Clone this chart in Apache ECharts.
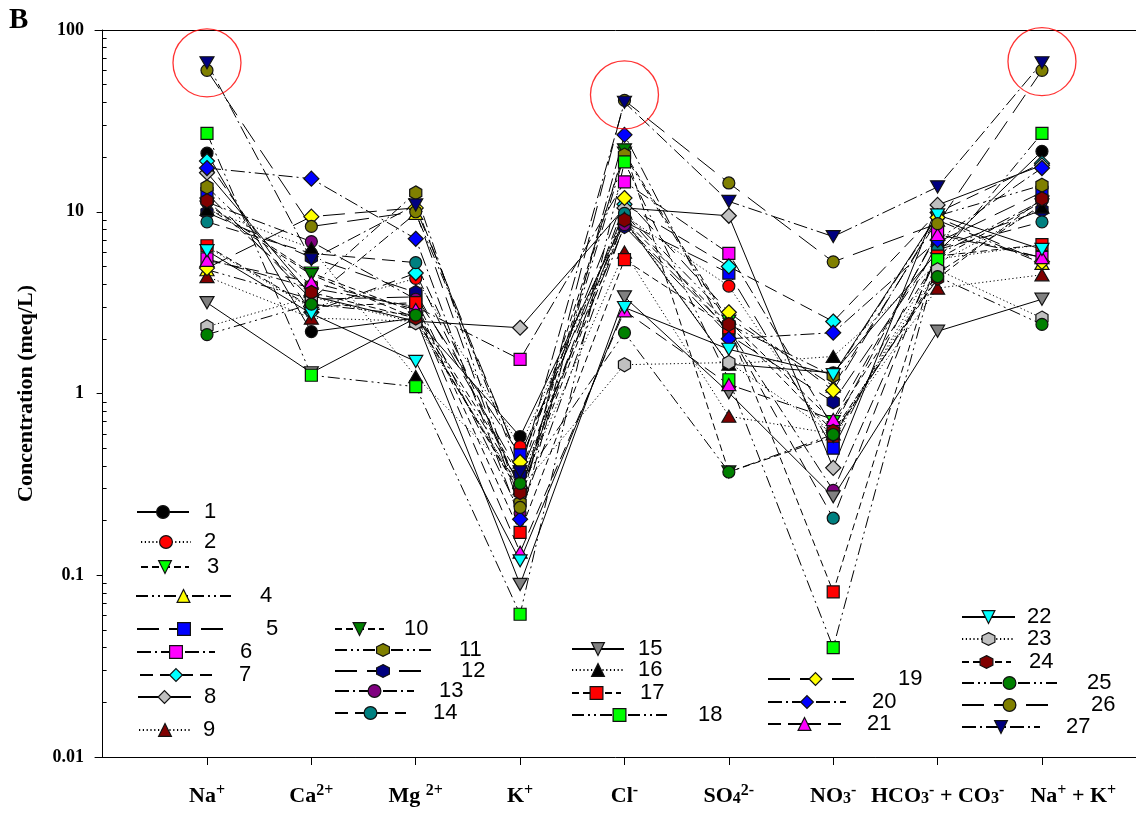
<!DOCTYPE html>
<html><head><meta charset="utf-8">
<script src="https://cdn.jsdelivr.net/npm/echarts@6/dist/echarts.min.js"></script>
<style>html,body{margin:0;padding:0;background:#fff}#c{width:1136px;height:815px}</style>
</head><body><div id="c"></div>
<script>
// ---- data ----
const categories = ['Na+', 'Ca2+', 'Mg2+', 'K+', 'Cl-', 'SO42-', 'NO3-', 'HCO3- + CO3-', 'Na+ + K+'];
const categoryLabels = [
  '{b|Na}{sup|+}', '{b|Ca}{sup|2+}', '{b|Mg }{sup|2+}', '{b|K}{sup|+}', '{b|Cl}{sup|-}',
  '{b|SO}{sub|4}{sup|2-}', '{b|NO}{sub|3}{sup|-}', '{b|HCO}{sub|3}{sup|-}{b| + CO}{sub|3}{sup|-}',
  '{b|Na}{sup|+}{b| + K}{sup|+}'
];
// label anchor positions along the category axis (last label is set off to the right in the original)
const labelPositions = [1, 2, 3, 4, 5, 6, 7, 8, 9.3];
const yTickValues = [0.01, 0.1, 1, 10, 100];
const yTickLabels = ['0.01', '0.1', '1', '10', '100'];
const yMinorTicks = [0.02,0.03,0.04,0.05,0.06,0.07,0.08,0.09,0.2,0.3,0.4,0.5,0.6,0.7,0.8,0.9,2,3,4,5,6,7,8,9,20,30,40,50,60,70,80,90];
const seriesNames = ['1','2','3','4','5','6','7','8','9','10','11','12','13','14','15','16','17','18','19','20','21','22','23','24','25','26','27'];
// order: Na, Ca, Mg, K, Cl, SO4, NO3, HCO3+CO3, Na+K
const s1  = [21, 2.19, 2.6, 0.58, 9.0, 1.45, 1.3, 6.0, 21.5];
const s2  = [6.4, 2.95, 4.3, 0.51, 9.5, 3.9, 0.55, 5.5, 6.6];
const s3  = [11.0, 4.6, 2.8, 0.35, 21.0, 2.5, 0.7, 5.5, 11.3];
const s4  = [4.8, 3.3, 9.8, 0.42, 10.0, 2.6, 1.1, 9.0, 5.2];
const s5  = [12.6, 3.3, 3.4, 0.46, 8.8, 4.6, 0.50, 6.8, 12.8];
const s6  = [5.5, 3.8, 3.0, 1.54, 14.6, 5.9, 0.65, 7.7, 5.6];
const s7  = [19.0, 2.8, 4.6, 0.30, 11.0, 5.0, 2.49, 9.9, 18.5];
const s8  = [16.4, 3.45, 2.5, 2.3, 10.5, 9.5, 0.39, 10.9, 18.0];
const s9  = [4.4, 2.6, 2.5, 0.30, 6.0, 0.75, 0.6, 3.8, 4.5];
const s10 = [10.6, 4.5, 2.6, 0.28, 21.9, 0.37, 0.58, 4.6, 10.9];
const s11 = [13.7, 3.9, 12.7, 0.25, 20.5, 2.4, 1.25, 9.5, 14.0];
const s12 = [9.9, 5.6, 3.6, 0.36, 8.3, 2.1, 0.90, 6.3, 10.2];
const s13 = [11.3, 6.85, 3.3, 0.22, 8.5, 2.25, 0.293, 5.8, 11.5];
const s14 = [8.8, 5.9, 5.25, 0.30, 9.8, 2.2, 0.206, 6.2, 8.8];
const s15 = [3.16, 1.3, 2.6, 0.089, 3.4, 1.01, 0.27, 2.2, 3.3];
const s16 = [10.3, 6.3, 1.24, 0.33, 9.2, 1.45, 1.6, 5.2, 10.6];
const s17 = [6.5, 3.0, 3.16, 0.172, 5.45, 2.3, 0.081, 5.7, 6.6];
const s18 = [27, 1.26, 1.09, 0.061, 18.8, 1.19, 0.04, 5.45, 27];
const s19 = [4.9, 9.4, 10.5, 0.42, 11.9, 2.8, 1.04, 9.3, 5.3];
const s20 = [17.4, 15.2, 7.1, 0.203, 26.5, 2.0, 2.16, 7.0, 17.4];
const s21 = [5.4, 4.1, 2.9, 0.134, 2.85, 1.12, 0.72, 7.5, 5.6];
const s22 = [6.1, 2.75, 1.5, 0.12, 2.97, 1.75, 1.27, 9.6, 6.2];
const s23 = [2.33, 3.4, 2.45, 0.30, 1.44, 1.48, 0.6, 4.8, 2.6];
const s24 = [11.5, 3.6, 2.6, 0.285, 9.0, 2.4, 0.62, 4.3, 11.8];
const s25 = [2.11, 3.1, 2.7, 0.32, 2.16, 0.37, 0.595, 4.4, 2.4];
const s26 = [60, 8.3, 10.0, 0.236, 41, 14.4, 5.3, 8.6, 60];
const s27 = [66, 5.45, 10.9, 0.37, 40, 11.4, 7.3, 13.7, 66];
// highlighted points (red circles): [category index (1-based), value]
const highlightPoints = [[1, 66], [5, 44], [9, 67]];

// ---- styles ----
const HEX = 'path://M866,0 L1732,500 L1732,1500 L866,2000 L0,1500 L0,500 Z';
const TUP = 'path://M500,0 L1000,866 L0,866 Z';
const TDOWN = 'path://M0,0 L1000,0 L500,866 Z';
const shapeDefs = {
  circle: ['circle', 12], square: ['rect', 12], diamond: ['diamond', 15],
  tup: [TUP, 14], tdown: [TDOWN, 14], hex: [HEX, 14]
};
const shapes = ['circle','circle','tdown','tup','square','square','diamond','diamond','tup','tdown','hex','hex','circle','circle','tdown','tup','square','square','diamond','diamond','tup','tdown','hex','hex','circle','circle','tdown'];
const colors = ['#000000','#ff0000','#00ff00','#ffff00','#0000ff','#ff00ff','#00ffff','#c0c0c0','#800000','#008000','#808000','#000080','#800080','#008080','#808080','#000000','#ff0000','#00ff00','#ffff00','#0000ff','#ff00ff','#00ffff','#c0c0c0','#800000','#008000','#808000','#000080'];
const dashCycle = ['solid', [1.2, 2.6], [7, 4], [12, 4, 2, 4, 2, 4], [22, 10], [14, 4, 2, 4], [13, 7]];
// legend layout: [line start x, centre y, line length, text left x]
const legendLayout = [
  [136,509,52,203],[140,539,50,203],[140,564,48,206],[135,593,95,259],[136,626,94,265],
  [136,649,78,239],[139,672,72,238],[137,694,53,203],[138,727,52,202],
  [334,626,49,403],[334,647,96,458],[334,668,96,460],[334,688,79,438],[334,710,71,432],
  [571,646,52,637],[571,667,52,637],[571,690,49,639],[571,712,95,697],
  [767,676,95,897],[767,699,78,871],[767,721,73,866],
  [961,614,53,1026],[961,636,53,1026],[961,659,49,1028],[961,680,95,1086],[961,702,95,1090],[961,724,78,1065]
];

const values = [s1,s2,s3,s4,s5,s6,s7,s8,s9,s10,s11,s12,s13,s14,s15,s16,s17,s18,s19,s20,s21,s22,s23,s24,s25,s26,s27];
const SERIF = "'Liberation Serif','Times New Roman',serif";
const SANS = "'Liberation Sans',Arial,sans-serif";

const series = values.map((vals, i) => {
  const sd = shapeDefs[shapes[i]];
  return {
    name: seriesNames[i], type: 'line',
    data: vals.map((v, j) => [j + 1, v]),
    symbol: sd[0], symbolSize: sd[1], symbolKeepAspect: true,
    showAllSymbol: true,
    itemStyle: { color: colors[i], borderColor: '#111', borderWidth: 1.2 },
    lineStyle: { color: '#000', width: 1, type: dashCycle[i % 7] },
    emphasis: { disabled: true },
    z: 2
  };
});
series.push({
  type: 'scatter', name: 'highlight', data: highlightPoints,
  symbol: 'circle', symbolSize: 68,
  itemStyle: { color: 'rgba(0,0,0,0)', borderColor: '#ff0000', borderWidth: 1.3 },
  emphasis: { disabled: true }, z: 5, silent: true
});

const ih = 16;
const legends = legendLayout.map((L, i) => ({
  data: [seriesNames[i]],
  left: L[0], top: L[1] - ih / 2,
  itemWidth: L[2], itemHeight: ih, padding: 0, itemGap: 0,
  selectedMode: false,
  itemStyle: { borderColor: '#111', borderWidth: 1.2 },
  textStyle: { fontFamily: SANS, fontSize: 22, color: '#000', padding: [0, 0, 0, Math.max(0, L[3] - L[0] - L[2] - 5)] }
}));

const xMin = -0.073, xMax = 9.901;
const labelBase = { fontFamily: SERIF, fontWeight: 'bold', color: '#000' };
const option = {
  animation: false,
  backgroundColor: '#fff',
  title: { text: 'B', left: 9, top: 6, padding: 0, textStyle: { fontFamily: SERIF, fontWeight: 'bold', fontSize: 29, color: '#000' } },
  legend: legends,
  grid: { left: 95, right: 0, top: 30, bottom: 58, containLabel: false },
  xAxis: [{
    type: 'value', min: xMin, max: xMax, position: 'bottom',
    splitLine: { show: false },
    axisLine: { show: true, lineStyle: { color: '#000', width: 1 } },
    axisTick: { show: true, customValues: [1,2,3,4,5,6,7,8,9], length: 8, inside: false, lineStyle: { color: '#000' } },
    axisLabel: {
      customValues: labelPositions, margin: 18, color: '#000',
      hideOverlap: false, showMinLabel: true, showMaxLabel: true,
      formatter: v => { const k = labelPositions.findIndex(p => Math.abs(p - v) < 1e-6); return k >= 0 ? categoryLabels[k] : ''; },
      rich: {
        b: Object.assign({ fontSize: 22, lineHeight: 32, verticalAlign: 'bottom' }, labelBase),
        sup: Object.assign({ fontSize: 16, lineHeight: 20, verticalAlign: 'middle' }, labelBase),
        sub: Object.assign({ fontSize: 16, lineHeight: 20, verticalAlign: 'bottom' }, labelBase)
      }
    }
  }, {
    type: 'value', min: xMin, max: xMax, position: 'top',
    splitLine: { show: false }, axisTick: { show: false }, axisLabel: { show: false },
    axisLine: { show: true, lineStyle: { color: '#000', width: 1 } }
  }],
  yAxis: [{
    type: 'log', logBase: 10, min: 0.01, max: 100, position: 'left',
    name: 'Concentration (meq/L)', nameLocation: 'middle', nameGap: 58,
    nameTextStyle: { fontFamily: SERIF, fontWeight: 'bold', fontSize: 22, color: '#000' },
    splitLine: { show: false },
    axisLine: { show: true, lineStyle: { color: '#000', width: 1 } },
    axisTick: { show: true, customValues: yTickValues, length: 6, inside: false, lineStyle: { color: '#000' } },
    axisLabel: {
      customValues: yTickValues, margin: 11, color: '#000',
      fontFamily: SERIF, fontWeight: 'bold', fontSize: 18,
      formatter: v => { const k = yTickValues.findIndex(t => Math.abs(Math.log10(t) - Math.log10(v)) < 1e-6); return k >= 0 ? yTickLabels[k] : ''; }
    }
  }, {
    type: 'log', logBase: 10, min: 0.01, max: 100, position: 'left', offset: 0,
    splitLine: { show: false }, axisLine: { show: false }, axisLabel: { show: false },
    axisTick: { show: true, customValues: yMinorTicks, length: 4, inside: true, lineStyle: { color: '#000' } }
  }],
  series: series
};
const chart = echarts.init(document.getElementById('c'), null, { renderer: 'canvas' });
chart.setOption(option);
</script></body></html>
